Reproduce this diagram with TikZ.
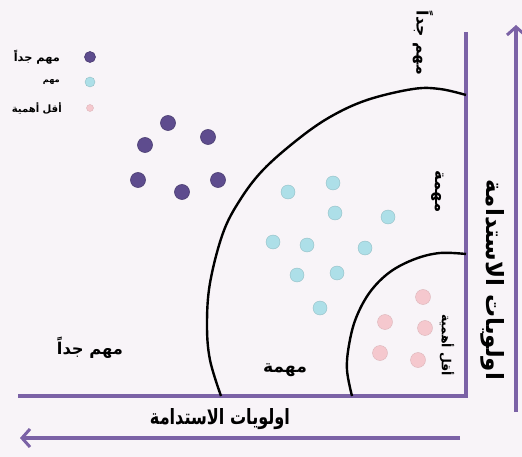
\documentclass[tikz,border=0pt]{standalone}
\usepackage{fontspec}
\usepackage{graphicx}
\usetikzlibrary{arrows.meta}
\TeXXeTstate=1
\newfontfamily\arabicfont[Script=Arabic]{DejaVu Sans}
\newcommand{\artxt}[3]{\resizebox{#1}{#2}{\arabicfont\bfseries #3}}
\definecolor{axispurple}{HTML}{7B62A6}
\definecolor{bgpink}{HTML}{F8F4F8}
\definecolor{dotpurple}{HTML}{5E4C8E}
\definecolor{dotcyan}{HTML}{ADDFE8}
\definecolor{dotpink}{HTML}{F5C8CE}
\begin{document}
\begin{tikzpicture}[x=1pt,y=-1pt,
  axisline/.style={draw=axispurple,line width=3.5pt,line join=miter},
  axisarrow/.style={draw=axispurple,line width=3.5pt,-{Straight Barb[length=8pt,width=18pt,line width=3pt]}},
  zone/.style={draw=black,line width=2.4pt},
  pdot/.style={circle,fill=dotpurple,draw=dotpurple!80!black,line width=0.6pt,minimum size=15pt,inner sep=0pt},
  cdot/.style={circle,fill=dotcyan,draw=dotcyan!85!black,line width=0.4pt,minimum size=14pt,inner sep=0pt},
  kdot/.style={circle,fill=dotpink,draw=dotpink!90!black,line width=0.4pt,minimum size=15pt,inner sep=0pt},
  lbl/.style={inner sep=0pt}]
\fill[bgpink] (0,0) rectangle (522,457);
\useasboundingbox (0,0) rectangle (522,457);
% axes
\coordinate (hl) at (18,396);
\coordinate (corner) at (466,396);
\coordinate (vt) at (466,32);
\draw[axisline] (hl) -- (corner) -- (vt);
\coordinate (ra0) at (516,412);
\coordinate (ra1) at (516,25);
\draw[axisarrow] (ra0) -- (ra1);
\coordinate (ba0) at (460,438);
\coordinate (ba1) at (20,438);
\draw[axisarrow] (ba0) -- (ba1);
% zones
\draw[zone] plot[smooth,tension=0.6] coordinates {(221,396) (210,360) (207,325) (210,283) (223,233) (240,200) (263,170) (297,140) (330,117) (367,100) (413,89) (440,89) (466,95)};
\draw[zone] plot[smooth,tension=0.6] coordinates {(352,396) (347,370) (349,345) (356,318) (370,292) (390,272) (415,259) (440,253) (466,254)};
% purple dots
\foreach \n/\p in {1/{(168,123)},2/{(208,137)},3/{(145,145)},4/{(138,180)},5/{(182,192)},6/{(218,180)}}
  \node[pdot] (pd\n) at \p {};
% cyan dots
\foreach \n/\p in {1/{(288,192)},2/{(333,183)},3/{(335,213)},4/{(388,217)},5/{(273,242)},6/{(307,245)},7/{(365,248)},8/{(297,275)},9/{(337,273)},10/{(320,308)}}
  \node[cdot] (cd\n) at \p {};
% pink dots
\foreach \n/\p in {1/{(423,297)},2/{(385,322)},3/{(425,328)},4/{(380,353)},5/{(418,360)}}
  \node[kdot] (kd\n) at \p {};
% legend
\node[pdot,minimum size=11pt] (lg1) at (90,57) {};
\node[cdot,minimum size=10pt] (lg2) at (90,82) {};
\node[kdot,minimum size=7pt] (lg3) at (90,108) {};
\node[lbl,anchor=east] (lt1) at (60,57) {\artxt{46pt}{!}{\beginR مهم جداً\endR}};
\node[lbl,anchor=east] (lt2) at (60,82) {\artxt{17pt}{!}{\beginR مهم\endR}};
\node[lbl,anchor=east] (lt3) at (62,108) {\artxt{50pt}{!}{\beginR أقل أهمية\endR}};
% zone labels
\node[lbl] (z1) at (90,348) {\artxt{66pt}{!}{\beginR مهم جداً\endR}};
\node[lbl] (z2) at (285,370) {\artxt{44pt}{!}{\beginR مهمة\endR}};
\node[lbl,rotate=-90] (z3) at (423,43) {\artxt{64pt}{!}{\beginR مهم جداً\endR}};
\node[lbl,rotate=-90] (z4) at (438,192) {\artxt{42pt}{!}{\beginR مهمة\endR}};
\node[lbl,rotate=-90] (z5) at (447,345) {\artxt{62pt}{!}{\beginR أقل أهمية\endR}};
% axis labels
\node[lbl] (ax1) at (220,419) {\artxt{140pt}{16pt}{\beginR اولويات الاستدامة\endR}};
\node[lbl,rotate=-90] (ax2) at (493,280) {\artxt{200pt}{18pt}{\beginR اولويات الاستدامة\endR}};
\end{tikzpicture}
\end{document}
